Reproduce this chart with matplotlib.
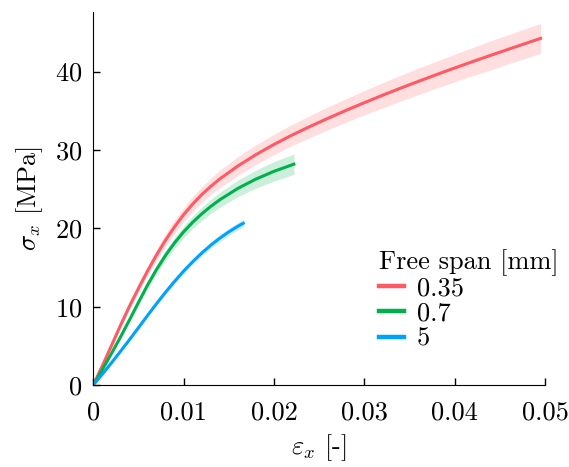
import matplotlib
matplotlib.use("Agg")
import matplotlib.pyplot as plt

plt.rcParams['font.family'] = 'serif'
plt.rcParams['font.serif'] = ['cmr10']
plt.rcParams['mathtext.fontset'] = 'cm'
plt.rcParams['axes.formatter.use_mathtext'] = True

# free span 0.35 mm
strain_a = [0, 0.001, 0.002, 0.003, 0.004, 0.005, 0.006, 0.007, 0.008, 0.009, 0.010,
            0.011, 0.012, 0.013, 0.014, 0.016, 0.018, 0.020, 0.022, 0.024, 0.026,
            0.028, 0.030, 0.032, 0.034, 0.036, 0.038, 0.040, 0.042, 0.044, 0.046,
            0.048, 0.0495]
stress_a = [0, 2.45, 5.0, 7.6, 10.05, 12.35, 14.55, 16.6, 18.5, 20.2, 21.75,
            23.1, 24.3, 25.35, 26.3, 27.95, 29.4, 30.7, 31.9, 33.0, 34.05,
            35.06, 36.03, 36.97, 37.88, 38.76, 39.62, 40.46, 41.28, 42.08, 42.87,
            43.65, 44.23]
std_a = [0, 0.1, 0.2, 0.3, 0.4, 0.5, 0.6, 0.7, 0.8, 0.85, 0.9,
         0.95, 1.0, 1.05, 1.1, 1.2, 1.25, 1.3, 1.35, 1.4, 1.45,
         1.5, 1.55, 1.6, 1.65, 1.7, 1.7, 1.75, 1.8, 1.85, 1.85,
         1.9, 1.9]

# free span 0.7 mm
strain_b = [0, 0.001, 0.002, 0.003, 0.004, 0.005, 0.006, 0.007, 0.008, 0.009, 0.010,
            0.011, 0.012, 0.013, 0.014, 0.016, 0.018, 0.020, 0.0222]
stress_b = [0, 1.95, 4.0, 6.1, 8.3, 10.55, 12.75, 14.75, 16.55, 18.15, 19.55,
            20.77, 21.84, 22.79, 23.64, 25.09, 26.28, 27.27, 28.18]
std_b = [0, 0.05, 0.1, 0.15, 0.25, 0.35, 0.45, 0.55, 0.65, 0.7, 0.75,
         0.8, 0.85, 0.9, 0.95, 1.05, 1.15, 1.25, 1.3]

# free span 5 mm
strain_c = [0, 0.001, 0.002, 0.003, 0.004, 0.005, 0.006, 0.007, 0.008, 0.009, 0.010,
            0.011, 0.012, 0.013, 0.014, 0.015, 0.016, 0.0166]
stress_c = [0, 1.38, 2.81, 4.28, 5.78, 7.32, 8.87, 10.39, 11.85, 13.24, 14.54,
            15.74, 16.84, 17.84, 18.74, 19.54, 20.26, 20.64]
std_c = [0, 0.03, 0.06, 0.09, 0.12, 0.15, 0.18, 0.21, 0.25, 0.28, 0.31,
         0.34, 0.37, 0.4, 0.43, 0.46, 0.48, 0.5]

labels = ['0.35', '0.7', '5']
colors = ['#FF5A64', '#00B04C', '#00A2FF']

fig = plt.figure(figsize=(5.69, 4.67), dpi=100)
ax = fig.add_axes([0.164, 0.1756, 0.794, 0.7987])

series = [(strain_a, stress_a, std_a), (strain_b, stress_b, std_b), (strain_c, stress_c, std_c)]
for (x, y, s), lab, c in zip(series, labels, colors):
    lo = [yi - si for yi, si in zip(y, s)]
    hi = [yi + si for yi, si in zip(y, s)]
    ax.fill_between(x, lo, hi, color=c, alpha=0.2, linewidth=0)
    ax.plot(x, y, color=c, linewidth=2.2, label=lab, solid_joinstyle='round')

ax.set_xlim(0, 0.05)
ax.set_ylim(0, 47.6)
ax.set_xticks([0, 0.01, 0.02, 0.03, 0.04, 0.05])
ax.set_xticklabels(['0', '0.01', '0.02', '0.03', '0.04', '0.05'])
ax.set_yticks([0, 10, 20, 30, 40])
ax.tick_params(direction='in', length=5, width=1, labelsize=19)
ax.tick_params(axis='x', pad=11)
ax.tick_params(axis='y', pad=8)

ax.spines['top'].set_visible(False)
ax.spines['right'].set_visible(False)

ax.set_xlabel(r'$\varepsilon_x$ [-]', fontsize=19, labelpad=6)
ax.set_ylabel(r'$\sigma_x$ [MPa]', fontsize=19, labelpad=7)

leg = ax.legend(title='Free span [mm]', loc='upper left', bbox_to_anchor=(0.632, 0.365),
                frameon=False, fontsize=19, title_fontsize=19, handlelength=0.95,
                handletextpad=0.49, labelspacing=0.05, borderpad=0, borderaxespad=0,
                alignment='left')
for line in leg.get_lines():
    line.set_linewidth(3.2)

fig.savefig('out.png', dpi=100)
